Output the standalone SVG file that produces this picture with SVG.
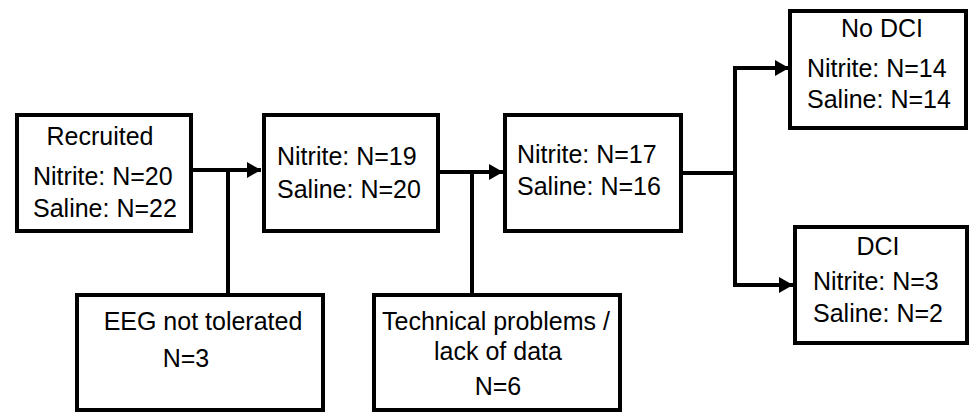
<svg xmlns="http://www.w3.org/2000/svg" width="970" height="414" viewBox="0 0 970 414">
<defs>
<style>
.box{fill:#fff;stroke:#000;stroke-width:4}
.ln{fill:none;stroke:#000;stroke-width:4}
text{font-family:"Liberation Sans",Arial,sans-serif;font-size:25px;fill:#000}
.c{text-anchor:middle}
</style>
<marker id="ah" markerUnits="userSpaceOnUse" markerWidth="14" markerHeight="16" refX="14" refY="8" orient="auto">
<path d="M0,0 L14,8 L0,16 Z" fill="#000"/>
</marker>
</defs>
<g id="connectors">
<path class="ln" d="M193,170 H261" marker-end="url(#ah)"/>
<path class="ln" d="M228,170 V293"/>
<path class="ln" d="M440,172 H503" marker-end="url(#ah)"/>
<path class="ln" d="M472,172 V293"/>
<path class="ln" d="M683,173 H735"/>
<path class="ln" d="M735,68 V285"/>
<path class="ln" d="M733,68 H789" marker-end="url(#ah)"/>
<path class="ln" d="M733,285 H793" marker-end="url(#ah)"/>
</g>
<g id="recruited">
<rect class="box" x="17" y="115" width="174" height="116"/>
<text class="c" x="100" y="145">Recruited</text>
<text x="33" y="185">Nitrite: N=20</text>
<text x="33" y="217">Saline: N=22</text>
</g>
<g id="stage2">
<rect class="box" x="264" y="115" width="174" height="116"/>
<text x="277" y="165">Nitrite: N=19</text>
<text x="277" y="198">Saline: N=20</text>
</g>
<g id="stage3">
<rect class="box" x="505" y="115" width="176" height="116"/>
<text x="517" y="163">Nitrite: N=17</text>
<text x="517" y="195">Saline: N=16</text>
</g>
<g id="eeg">
<rect class="box" x="77" y="295" width="246" height="115"/>
<text class="c" x="203" y="330">EEG not tolerated</text>
<text class="c" x="186" y="367">N=3</text>
</g>
<g id="technical">
<rect class="box" x="374" y="295" width="246" height="115"/>
<text class="c" x="496" y="330">Technical problems /</text>
<text class="c" x="498" y="360">lack of data</text>
<text class="c" x="498" y="395">N=6</text>
</g>
<g id="nodci">
<rect class="box" x="790" y="11" width="176" height="117"/>
<text class="c" x="882" y="37">No DCI</text>
<text x="807" y="77">Nitrite: N=14</text>
<text x="807" y="108">Saline: N=14</text>
</g>
<g id="dci">
<rect class="box" x="795" y="227" width="172" height="116"/>
<text class="c" x="878" y="255">DCI</text>
<text x="813" y="290">Nitrite: N=3</text>
<text x="813" y="322">Saline: N=2</text>
</g>
</svg>
